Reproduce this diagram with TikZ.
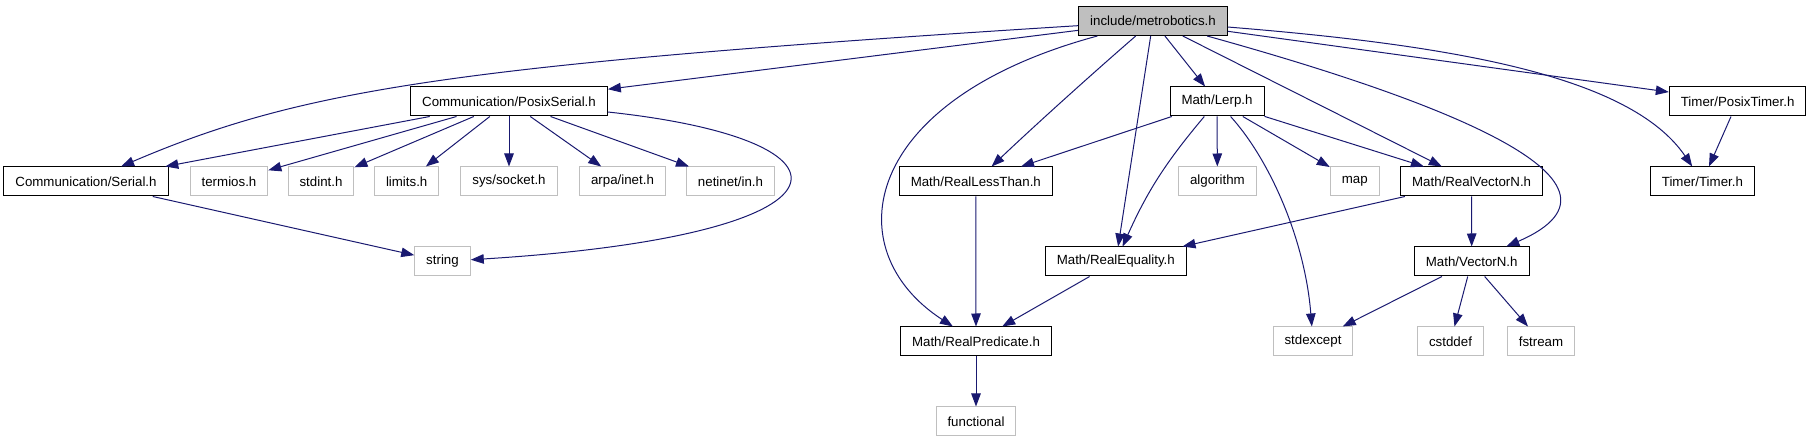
\documentclass[tikz,border=0pt]{standalone}
\usepackage{fontspec}
\setmainfont{Liberation Sans}
\usepackage{tikz}
\usetikzlibrary{arrows.meta}
\definecolor{edgeblue}{HTML}{191970}
\definecolor{sysgray}{HTML}{BFBFBF}

\begin{document}
\begin{tikzpicture}[x=1pt,y=-1pt,
			hdr/.style={draw=black,line width=1pt,fill=white,minimum height=29pt,inner xsep=11.5pt,inner ysep=0pt,font=\fontsize{13.3}{15}\selectfont},
			sys/.style={hdr,draw=sysgray},
			dep/.style={draw=edgeblue,line width=1pt,-{Triangle[length=13pt,width=9.5pt]}}
			]
			\useasboundingbox (0,0) rectangle (1813,443);
			% row 0 and 1
			\node[hdr,fill=sysgray] (root) at (1153,21) {include/metrobotics.h};
			\node[hdr] (pser) at (509,101.5) {Communication/PosixSerial.h};
			\node[hdr] (lerp) at (1217,101.5) {Math/Lerp.h};
			\node[hdr] (ptimer) at (1737.6,101.5) {Timer/PosixTimer.h};
			% row 2
			\node[hdr] (ser) at (86,181.5) {Communication/Serial.h};
			\node[sys] (termios) at (229,181.5) {termios.h};
			\node[sys] (stdint) at (321,181.5) {stdint.h};
			\node[sys] (limits) at (406.7,181.5) {limits.h};
			\node[sys] (socket) at (509,181.5) {sys/socket.h};
			\node[sys] (inet) at (622.5,181.5) {arpa/inet.h};
			\node[sys] (netin) at (730.5,181.5) {netinet/in.h};
			\node[hdr] (rlt) at (975.8,181.5) {Math/RealLessThan.h};
			\node[sys] (algo) at (1217.4,181.5) {algorithm};
			\node[sys] (map) at (1354.7,181.5) {map};
			\node[hdr] (rvec) at (1471.6,181.5) {Math/RealVectorN.h};
			\node[hdr] (timer) at (1702.4,181.5) {Timer/Timer.h};
			% row 3 to 5
			\node[sys] (string) at (442.5,261.5) {string};
			\node[hdr] (req) at (1115.8,261.5) {Math/RealEquality.h};
			\node[hdr] (vec) at (1471.7,261.5) {Math/VectorN.h};
			\node[hdr] (rpred) at (976,341.5) {Math/RealPredicate.h};
			\node[sys] (stdexc) at (1313,341.5) {stdexcept};
			\node[sys] (cstddef) at (1450.5,341.5) {cstddef};
			\node[sys] (fstream) at (1541,341.5) {fstream};
			\node[sys] (func) at (976,421.5) {functional};
			% edges
			\draw[dep] (root) .. controls (450,65) and (300,90) .. (ser);
			\draw[dep] (root) .. controls (860,100) and (835,250) .. (rpred);
			\draw[dep] (root) .. controls (1085,80) and (1030,130) .. (rlt);
			\draw[dep] (root) .. controls (1420,95) and (1660,180) .. (vec);
			\draw[dep] (root) .. controls (1450,45) and (1630,75) .. (timer);
			\foreach \t in {pser,req,lerp,rvec,ptimer}
			\draw[dep] (root) -- (\t);
			\foreach \t in {ser,termios,stdint,limits,socket,inet,netin}
			\draw[dep] (pser) -- (\t);
			\draw[dep] (pser) .. controls (870,140) and (870,235) .. (string);
			\draw[dep] (ser) -- (string);
			\foreach \t in {rlt,algo,map,rvec}
			\draw[dep] (lerp) -- (\t);
			\draw[dep] (lerp) to[bend right=8] (req);
			\draw[dep] (lerp) .. controls (1270,160) and (1305,240) .. (stdexc);
			\draw[dep] (rlt) -- (rpred);
			\draw[dep] (req) -- (rpred);
			\draw[dep] (rvec) -- (req);
			\draw[dep] (rvec) -- (vec);
			\foreach \t in {stdexc,cstddef,fstream}
			\draw[dep] (vec) -- (\t);
			\draw[dep] (rpred) -- (func);
			\draw[dep] (ptimer) -- (timer);
		\end{tikzpicture}
\end{document}
